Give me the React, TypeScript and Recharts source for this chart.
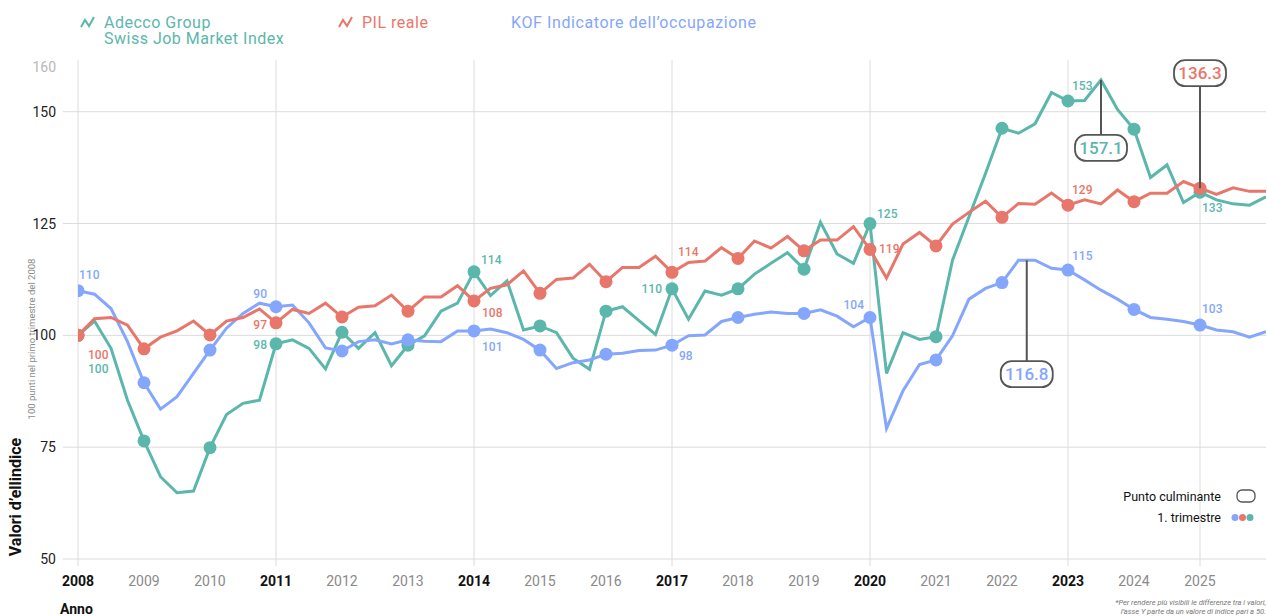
import { LineChart, Line, XAxis, YAxis, ReferenceLine, ReferenceDot } from "recharts"

// quarterly index values, 2008 Q1 .. 2026 Q1 (2008 Q1 = 100)
const adecco = [
  100, 103.2, 97.1, 85.5, 76.4, 68.4, 64.8, 65.2, 74.9, 82.3,
  84.8, 85.5, 98.1, 99.0, 97.1, 92.5, 100.7, 97.1, 100.6, 93.2,
  97.8, 99.9, 105.4, 107.2, 114.2, 108.9, 112.2, 101.2, 102.1, 100.6,
  94.9, 92.4, 105.4, 106.4, 103.3, 100.2, 110.4, 103.6, 109.9, 109.0,
  110.4, 113.7, 116.1, 118.5, 114.8, 125.3, 118.2, 116.1, 125.0, 91.5,
  100.6, 99.1, 99.7, 116.8, 126.5, 136.2, 146.3, 145.2, 147.3, 154.3,
  152.4, 152.5, 157.1, 150.5, 146.1, 135.3, 138.1, 129.7, 132.0, 130.3,
  129.4, 129.1, 131.0,
]
const pil = [
  100, 103.7, 104.0, 102.3, 97.0, 99.6, 101.0, 103.2, 100.1, 103.2,
  104.0, 105.9, 102.8, 105.8, 104.9, 107.2, 104.1, 106.3, 106.6, 109.0,
  105.4, 108.6, 108.6, 111.1, 107.7, 110.5, 111.3, 114.4, 109.4, 112.5,
  112.8, 115.9, 112.0, 115.2, 115.2, 117.7, 114.1, 116.3, 116.6, 119.6,
  117.2, 121.1, 119.5, 122.1, 118.9, 121.3, 121.3, 124.3, 119.2, 112.8,
  120.4, 123.0, 120.0, 124.9, 127.5, 130.0, 126.4, 129.5, 129.3, 131.8,
  129.1, 130.3, 129.4, 132.5, 129.9, 131.8, 131.8, 134.4, 132.9, 131.5,
  133.0, 132.2, 132.2,
]
const kof = [
  110, 109.2, 106.0, 98.6, 89.4, 83.5, 86.3, 91.5, 96.7, 101.6,
  104.9, 107.2, 106.4, 106.8, 102.8, 97.2, 96.5, 98.6, 99.0, 98.1,
  99.0, 98.7, 98.6, 101.0, 101.0, 101.4, 100.6, 99.1, 96.7, 92.6,
  93.9, 94.5, 95.8, 96.0, 96.6, 96.7, 97.8, 99.9, 100.1, 103.1,
  104.0, 104.7, 105.2, 104.9, 104.9, 105.7, 104.3, 101.9, 104.0, 79.2,
  87.6, 93.5, 94.5, 99.9, 108.1, 110.5, 111.8, 116.8, 116.8, 115.0,
  114.6, 112.4, 110.1, 108.1, 105.8, 104.0, 103.6, 103.1, 102.3, 101.2,
  100.8, 99.6, 100.8,
]

// labels on the first-quarter dots (2008 .. 2025)
const adeccoQ1Labels = ["100", "", "", "98", "", "", "114", "", "", "110", "", "", "125", "", "", "153", "", "133"]
const pilQ1Labels = ["100", "", "", "97", "", "", "108", "", "", "114", "", "", "119", "", "", "129", "", ""]
const kofQ1Labels = ["110", "", "", "90", "", "", "101", "", "", "98", "", "", "104", "", "", "115", "", "103"]

const years = [2008, 2009, 2010, 2011, 2012, 2013, 2014, 2015, 2016, 2017, 2018, 2019, 2020, 2021, 2022, 2023, 2024, 2025]
const boldYears = [2008, 2011, 2014, 2017, 2020, 2023]
const gridYears = [2008, 2011, 2014, 2017, 2020, 2023, 2025]
const yTicks = [50, 75, 100, 125, 150, 160]
const yGrid = [50, 75, 100, 125, 150]

const peaks = [
  { key: "adecco", x: 2023.5, value: 157.1, text: "157.1" },
  { key: "pil", x: 2025, value: 132.9, text: "136.3" },
  { key: "kof", x: 2022.375, value: 116.8, text: "116.8" },
]

const COLORS: Record<string, string> = { adecco: "#5bb7ab", pil: "#e9766a", kof: "#85a6fd" }
const FONT = "Roboto, 'Noto Sans', sans-serif"

const data = adecco.map((v, i) => ({ t: 2008 + i / 4, adecco: v, pil: pil[i], kof: kof[i] }))

// label placement relative to the dot: [dx, dy, anchor]
const place: Record<string, any[]> = {
  adecco: [[10, 34, "start"], [], [], [-9, 1, "end"], [], [], [7, -12, "start"], [], [], [-10, 0, "end"], [], [], [7, -10, "start"], [], [], [4, -15, "start"], [], [2, 16, "start"]],
  pil: [[10, 20, "start"], [], [], [-9, 2, "end"], [], [], [8, 12, "start"], [], [], [6, -20, "start"], [], [], [9, 0, "start"], [], [], [4, -15, "start"], [], []],
  kof: [[1, -16, "start"], [], [], [-9, -13, "end"], [], [], [8, 16, "start"], [], [], [7, 11, "start"], [], [], [-6, -12, "end"], [], [], [4, -14, "start"], [], [2, -16, "start"]],
}
const labelsBy: Record<string, string[]> = { adecco: adeccoQ1Labels, pil: pilQ1Labels, kof: kofQ1Labels }

const boxOffset: Record<string, number> = { adecco: 68, pil: -115, kof: 114 }

function makeDot(key: string) {
  return (p: any) => {
    const { cx, cy, index } = p
    if (index % 4 !== 0 || index > 68) return <g key={`${key}-${index}`} />
    const q = index / 4
    const lbl = labelsBy[key][q]
    const pl = place[key][q]
    return (
      <g key={`${key}-${index}`}>
        <circle cx={cx} cy={cy} r={6.5} fill={COLORS[key]} />
        {lbl && pl && pl.length ? (
          <text x={cx + pl[0]} y={cy + pl[1]} dy={4} textAnchor={pl[2]} fontSize={12} fontWeight={500} fill={COLORS[key]} fontFamily={FONT}>
            {lbl}
          </text>
        ) : null}
      </g>
    )
  }
}

function peakShape(key: string, text: string) {
  return (p: any) => {
    const { cx, cy } = p
    const by = cy + boxOffset[key]
    return (
      <g>
        <line x1={cx} y1={cy} x2={cx} y2={by} stroke="#555" strokeWidth={2} />
        <rect x={cx - 26} y={by - 13} width={52} height={26} rx={11} fill="#fff" stroke="#555" strokeWidth={1.8} />
        <text x={cx} y={by} dy={6} textAnchor="middle" fontSize={17} fontWeight={500} fill={COLORS[key]} fontFamily={FONT}>
          {text}
        </text>
      </g>
    )
  }
}

const XTick = (p: any) => {
  const v = p.payload.value
  const bold = boldYears.includes(v)
  return (
    <text x={p.x} y={p.y} dy={21} textAnchor="middle" fontSize={14} fontWeight={bold ? 700 : 400} fill={bold ? "#111" : "#8a8a8a"} fontFamily={FONT}>
      {v}
    </text>
  )
}

const YTick = (p: any) => {
  const v = p.payload.value
  return (
    <text x={p.x} y={p.y} dy={5} textAnchor="end" fontSize={14} fill={v === 160 ? "#b8b8b8" : "#222"} fontFamily={FONT}>
      {v}
    </text>
  )
}

function Icon({ x, color }: { x: number; color: string }) {
  return (
    <polyline
      points={`${x},27 ${x + 4},20 ${x + 8},26 ${x + 13},17`}
      fill="none"
      stroke={color}
      strokeWidth={2}
      strokeLinejoin="miter"
    />
  )
}

export default function App() {
  return (
    <div style={{ position: "relative", width: 1267, height: 616, background: "#fff", fontFamily: FONT }}>
      <style>{"body{margin:0}"}</style>
      <LineChart width={1267} height={616} data={data} margin={{ top: 67, right: 1, bottom: 27, left: 0 }}>
        <XAxis
          dataKey="t"
          type="number"
          domain={[2008, 2026]}
          ticks={years}
          tick={<XTick />}
          tickLine={false}
          axisLine={false}
          tickMargin={0}
          height={30}
          allowDataOverflow
        />
        <YAxis
          type="number"
          domain={[50, 160]}
          ticks={yTicks}
          tick={<YTick />}
          tickLine={false}
          axisLine={false}
          tickSize={6}
          tickMargin={16}
          width={78}
          allowDataOverflow
        />
        {yGrid.map((v) => (
          <ReferenceLine
            key={`h${v}`}
            segment={[{ x: 2007.77, y: v }, { x: 2026, y: v }]}
            stroke="#dcdcdc"
            strokeWidth={1}
            ifOverflow="visible"
          />
        ))}
        {gridYears.map((yr) => (
          <ReferenceLine
            key={`v${yr}`}
            segment={[{ x: yr, y: 48.4 }, { x: yr, y: 161.5 }]}
            stroke="#dcdcdc"
            strokeWidth={1}
            ifOverflow="visible"
          />
        ))}
        <Line dataKey="adecco" stroke={COLORS.adecco} strokeWidth={3} dot={makeDot("adecco")} activeDot={false} isAnimationActive={false} strokeLinejoin="miter" />
        <Line dataKey="kof" stroke={COLORS.kof} strokeWidth={3} dot={makeDot("kof")} activeDot={false} isAnimationActive={false} strokeLinejoin="miter" />
        <Line dataKey="pil" stroke={COLORS.pil} strokeWidth={3} dot={makeDot("pil")} activeDot={false} isAnimationActive={false} strokeLinejoin="miter" />
        {peaks.map((pk) => (
          <ReferenceDot key={pk.key} x={pk.x} y={pk.value} r={1} ifOverflow="visible" shape={peakShape(pk.key, pk.text)} />
        ))}
      </LineChart>

      <svg width={1267} height={616} style={{ position: "absolute", left: 0, top: 0, pointerEvents: "none" }} fontFamily={FONT}>
        {/* top legend */}
        <Icon x={81} color={COLORS.adecco} />
        <text x={104} y={27.5} fontSize={16} letterSpacing={0.5} fill={COLORS.adecco}>Adecco Group</text>
        <text x={104} y={44} fontSize={16} letterSpacing={0.5} fill={COLORS.adecco}>Swiss Job Market Index</text>
        <Icon x={339} color={COLORS.pil} />
        <text x={362} y={27.5} fontSize={16} letterSpacing={0.5} fill={COLORS.pil}>PIL reale</text>
        <text x={511} y={27.5} fontSize={16} letterSpacing={0.6} fill={COLORS.kof}>KOF Indicatore dell’occupazione</text>

        {/* axis titles */}
        <text transform="translate(21,497) rotate(-90)" textAnchor="middle" fontSize={16} fontWeight={700} fill="#111">
          Valori d’ellindice
        </text>
        <text transform="translate(35,339) rotate(-90)" textAnchor="middle" fontSize={9.5} fill="#8a8a8a">
          100 punti nel primo trimestre del 2008
        </text>
        <text x={60} y={614} fontSize={14} fontWeight={700} fill="#111">Anno</text>

        {/* bottom-right legend */}
        <text x={1221} y={501} textAnchor="end" fontSize={12.5} fill="#111">Punto culminante</text>
        <rect x={1237} y={490} width={18} height={12} rx={5} fill="#fff" stroke="#555" strokeWidth={1.3} />
        <text x={1221} y={522} textAnchor="end" fontSize={12.5} fill="#111">1. trimestre</text>
        <circle cx={1235} cy={517.5} r={3.5} fill={COLORS.kof} />
        <circle cx={1242.5} cy={517.5} r={3.5} fill={COLORS.pil} />
        <circle cx={1250} cy={517.5} r={3.5} fill={COLORS.adecco} />

        {/* footnote */}
        <text x={1266} y={605} textAnchor="end" fontSize={7.5} fontStyle="italic" fill="#777">
          *Per rendere più visibili le differenze tra i valori,
        </text>
        <text x={1266} y={614} textAnchor="end" fontSize={7.5} fontStyle="italic" fill="#777">
          l’asse Y parte da un valore di indice pari a 50.
        </text>
      </svg>
    </div>
  )
}
